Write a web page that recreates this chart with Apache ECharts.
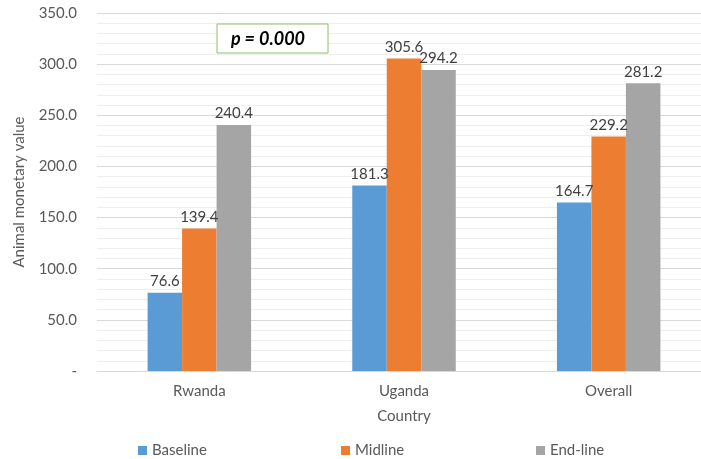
<!DOCTYPE html>
<html>
<head>
<meta charset="utf-8">
<script src="https://cdn.jsdelivr.net/npm/echarts@6/dist/echarts.min.js"></script>
<style>
  html, body { margin: 0; padding: 0; background: #fff; overflow: hidden; }
  /* plot area runs past the right edge of the page */
  #chart { width: 712px; height: 459px; }
</style>
</head>
<body>
<div id="chart"></div>
<script>
// Animal monetary value by country and survey round
const countries = ['Rwanda', 'Uganda', 'Overall'];
const baseline = [76.6, 181.3, 164.7];
const midline = [139.4, 305.6, 229.2];
const endline = [240.4, 294.2, 281.2];
const yTicks = { min: 0, max: 350, interval: 50 };

const FONT = 'Lato, "Open Sans", sans-serif';
const TEXT = '#595959';
const LABEL = '#404040';

const chart = echarts.init(document.getElementById('chart'));

function barSeries(name, data, color) {
  return {
    name: name,
    type: 'bar',
    data: data,
    barWidth: 34.5,
    barGap: '0%',
    itemStyle: { color: color },
    label: {
      show: true,
      position: 'top',
      distance: 4,
      color: LABEL,
      fontFamily: FONT,
      fontSize: 15,
      formatter: p => p.value.toFixed(1)
    }
  };
}

function legendAt(name, left) {
  return {
    data: [name],
    left: left,
    top: 438,
    icon: 'rect',
    itemWidth: 9,
    itemHeight: 9,
    itemGap: 5,
    textStyle: { color: TEXT, fontFamily: FONT, fontSize: 15 }
  };
}

chart.setOption({
  animation: false,
  backgroundColor: '#ffffff',
  grid: { left: 97, top: 13, width: 614, height: 358 },
  legend: [
    legendAt('Baseline', 133),
    legendAt('Midline', 336),
    legendAt('End-line', 531)
  ],
  xAxis: {
    type: 'category',
    data: countries,
    name: 'Country',
    nameLocation: 'middle',
    nameGap: 38,
    nameTextStyle: { color: TEXT, fontFamily: FONT, fontSize: 15 },
    axisTick: { show: false },
    axisLine: { lineStyle: { color: '#d9d9d9' } },
    axisLabel: { color: TEXT, fontFamily: FONT, fontSize: 15, margin: 13 }
  },
  yAxis: {
    type: 'value',
    min: yTicks.min,
    max: yTicks.max,
    interval: yTicks.interval,
    name: 'Animal monetary value',
    nameLocation: 'middle',
    nameGap: 70,
    nameTextStyle: { color: TEXT, fontFamily: FONT, fontSize: 15 },
    axisLine: { show: false },
    axisTick: { show: false },
    axisLabel: {
      color: TEXT,
      fontFamily: FONT,
      fontSize: 15,
      margin: 20,
      formatter: v => v === 0 ? '-' : v.toFixed(1)
    },
    splitLine: { lineStyle: { color: '#d9d9d9' } },
    minorTick: { show: false, splitNumber: 5 },
    minorSplitLine: { show: true, lineStyle: { color: '#eeeeee' } }
  },
  series: [
    barSeries('Baseline', baseline, '#5b9bd5'),
    barSeries('Midline', midline, '#ed7d31'),
    barSeries('End-line', endline, '#a5a5a5')
  ],
  graphic: [
    {
      type: 'rect',
      shape: { x: 217, y: 24, width: 111, height: 29 },
      style: { fill: '#ffffff', stroke: '#8fbf6a', lineWidth: 1 },
      z: 100
    },
    {
      type: 'text',
      x: 268,
      y: 39,
      style: {
        text: 'p = 0.000',
        fill: '#000000',
        fontFamily: FONT,
        fontSize: 18,
        fontWeight: 'bold',
        fontStyle: 'italic',
        align: 'center',
        verticalAlign: 'middle'
      },
      z: 101
    }
  ]
});
</script>
</body>
</html>
